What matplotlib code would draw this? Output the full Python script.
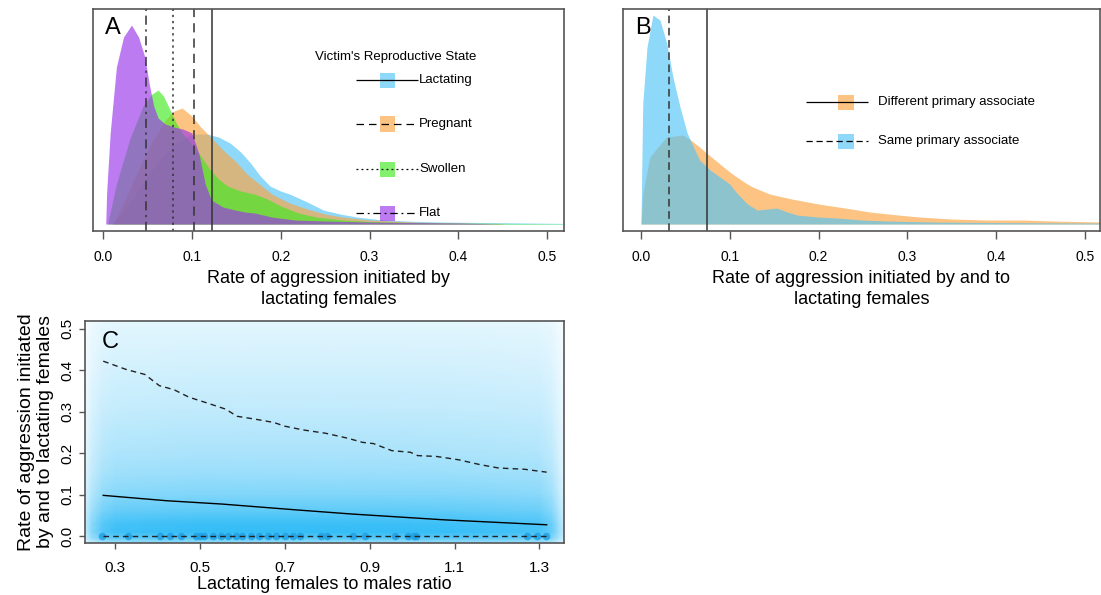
import numpy as np
import matplotlib.pyplot as plt
from matplotlib.colors import LinearSegmentedColormap
from matplotlib.patches import Rectangle

plt.rcParams['font.family'] = ['Liberation Sans', 'DejaVu Sans']

# ---- Panel A: density of aggression rate by victim's reproductive state ----
lact_x = [0.01, 0.02, 0.035, 0.05, 0.065, 0.08, 0.095, 0.105, 0.117, 0.13, 0.143,
          0.155, 0.166, 0.177, 0.188, 0.2, 0.21, 0.23, 0.248, 0.267, 0.286, 0.31,
          0.34, 0.38, 0.43, 0.48, 0.52]
lact_y = [0, 10, 28, 48, 66, 80, 88, 90, 90, 87, 81, 72, 61, 48, 38, 33, 30, 22,
          14, 10, 7, 4.5, 3, 2, 1.5, 1, 0.6]

preg_x = [0.011, 0.025, 0.04, 0.055, 0.07, 0.08, 0.089, 0.1, 0.11, 0.12, 0.135,
          0.15, 0.162, 0.176, 0.19, 0.21, 0.23, 0.25, 0.27, 0.3, 0.35, 0.4, 0.45]
preg_y = [0, 25, 55, 82, 104, 113, 116, 108, 97, 88, 74, 62, 50, 40, 30, 21, 15,
          10, 7, 4, 2, 1, 0.5]

swol_x = [0.005, 0.015, 0.03, 0.045, 0.055, 0.062, 0.068, 0.075, 0.083, 0.09, 0.1,
          0.11, 0.12, 0.13, 0.14, 0.155, 0.17, 0.185, 0.2, 0.22, 0.24, 0.27, 0.3,
          0.35, 0.42, 0.52]
swol_y = [0, 40, 85, 118, 130, 134, 128, 115, 100, 90, 80, 68, 55, 45, 38, 33,
          30, 25, 18, 11, 7, 4, 2.5, 1.5, 0.8, 0.3]

flat_x = [0.003, 0.004, 0.008, 0.015, 0.023, 0.032, 0.04, 0.047, 0.052, 0.057,
          0.062, 0.07, 0.08, 0.09, 0.1, 0.108, 0.115, 0.122, 0.135, 0.149, 0.16,
          0.171, 0.19, 0.216, 0.25, 0.3, 0.35, 0.4, 0.45]
flat_y = [0, 31, 91, 157, 187, 199, 187, 167, 140, 118, 106, 100, 97, 95, 91, 70,
          40, 24, 17, 14, 12, 11, 7, 4, 3, 2, 1.5, 1, 0]

# group means (vertical reference lines)
states = ['Lactating', 'Pregnant', 'Swollen', 'Flat']
means_a = [0.123, 0.1025, 0.079, 0.048]

# ---- Panel B: density by primary associate ----
diff_x = [0.0, 0.002, 0.01, 0.02, 0.029, 0.038, 0.047, 0.056, 0.066, 0.078, 0.089,
          0.1, 0.108, 0.118, 0.126, 0.145, 0.17, 0.2, 0.23, 0.258, 0.29, 0.314,
          0.35, 0.39, 0.43, 0.465, 0.52]
diff_y = [0, 30, 67, 78, 87, 88, 89, 84, 77, 68, 60, 52, 47, 41, 37, 30, 25, 20,
          16, 12, 9, 7, 5, 4, 4, 3, 2]

same_x = [0.0, 0.002, 0.0068, 0.0135, 0.0214, 0.029, 0.036, 0.044, 0.052, 0.066,
          0.078, 0.089, 0.1, 0.108, 0.12, 0.131, 0.142, 0.153, 0.165, 0.176, 0.2,
          0.221, 0.25, 0.277, 0.33, 0.4, 0.52]
same_y = [0, 120, 177, 209, 204, 181, 147, 117, 91, 64, 54, 47, 40, 31, 20, 14,
          15, 16, 12, 9, 7, 6, 4, 3, 2, 1.5, 1]

associates = ['Different primary associate', 'Same primary associate']
means_b = [0.074, 0.0315]

# ---- Panel C: aggression rate vs lactating female : male ratio ----
fit_x = [0.272, 0.422, 0.552, 0.726, 0.857, 1.074, 1.317]
fit_y = [0.098, 0.085, 0.077, 0.063, 0.053, 0.039, 0.027]

upper_x = [0.272, 0.326, 0.37, 0.404, 0.439, 0.474, 0.517, 0.561, 0.587, 0.63,
           0.674, 0.70, 0.743, 0.796, 0.848, 0.883, 0.909, 0.952, 0.996, 1.013,
           1.057, 1.109, 1.161, 1.204, 1.265, 1.317]
upper_y = [0.422, 0.402, 0.39, 0.363, 0.353, 0.335, 0.321, 0.306, 0.289, 0.282,
           0.274, 0.265, 0.256, 0.248, 0.236, 0.226, 0.223, 0.206, 0.202, 0.194,
           0.192, 0.184, 0.172, 0.164, 0.161, 0.154]

lower_x = [0.272, 1.317]
lower_y = [0.0, 0.0]

obs_ratio = [0.27, 0.33, 0.405, 0.43, 0.455, 0.49, 0.50, 0.51, 0.53, 0.55, 0.565,
             0.585, 0.60, 0.62, 0.64, 0.66, 0.68, 0.70, 0.72, 0.735, 0.785, 0.80,
             0.86, 0.89, 0.96, 0.99, 1.005, 1.01, 1.27, 1.295, 1.315]
obs_rate = [0.0] * len(obs_ratio)

# smoothed point density behind panel C (rows: rate, cols: ratio)
dens_rate = [-0.017, -0.005, 0.01, 0.03, 0.06, 0.1, 0.15, 0.2, 0.3, 0.4, 0.5, 0.519]
dens_rate_level = [0.45, 0.8, 0.95, 0.92, 0.76, 0.6, 0.48, 0.4, 0.3, 0.22, 0.15,
                   0.12]
dens_ratio = [0.229, 0.245, 0.27, 0.3, 0.5, 0.7, 0.9, 1.1, 1.3, 1.33, 1.345, 1.359]
dens_ratio_level = [0.3, 0.6, 0.85, 0.95, 1.0, 1.0, 1.0, 0.98, 0.92, 0.75, 0.5, 0.3]

col_lact = (81/255, 195/255, 247/255)
col_preg = (252/255, 163/255, 63/255)
col_swol = (65/255, 233/255, 32/255)
col_flat = (154/255, 52/255, 235/255)
alpha = 0.65
line_col = '#333333'
spine_col = '#555555'

fig = plt.figure(figsize=(11.01, 5.95), dpi=100)
axA = fig.add_axes([0.0845, 0.6117, 0.4278, 0.3731])
axB = fig.add_axes([0.5658, 0.6117, 0.4332, 0.3731])
axC = fig.add_axes([0.0772, 0.0874, 0.4355, 0.3731])


def style_density_axis(ax, xlim):
    ax.set_xlim(*xlim)
    ax.set_ylim(-7, 215)
    ax.set_yticks([])
    ax.set_xticks([0.0, 0.1, 0.2, 0.3, 0.4, 0.5])
    ax.set_xticklabels(['0.0', '0.1', '0.2', '0.3', '0.4', '0.5'])
    ax.tick_params(axis='x', direction='out', length=6, width=1, colors=spine_col,
                   labelcolor='black', labelsize=10, pad=8)
    for s in ax.spines.values():
        s.set_color(spine_col)
        s.set_linewidth(1.2)


def legend_entry(ax, y, x0, x1, xc, xt, color, ls, label, size=(0.032, 0.068)):
    tr = ax.transAxes
    ax.plot([x0, x1], [y, y], color='black', lw=0.9, ls=ls, transform=tr,
            clip_on=False)
    ax.add_patch(Rectangle((xc - size[0] / 2, y - size[1] / 2), size[0], size[1],
                           transform=tr, facecolor=color, alpha=alpha, lw=0,
                           clip_on=False))
    ax.text(xt, y, label, transform=tr, fontsize=9.5, va='center', ha='left')


# panel A
for xs, ys, c in [(lact_x, lact_y, col_lact), (preg_x, preg_y, col_preg),
                  (swol_x, swol_y, col_swol), (flat_x, flat_y, col_flat)]:
    axA.fill_between(xs, 0, ys, color=c, alpha=alpha, lw=0)

styles = [(0, ()), (0, (6, 4)), (0, (1.5, 2.5)), (0, (6, 3, 1.5, 3))]
for m, ls in zip(means_a, styles):
    axA.axvline(m, color=line_col, lw=1.1, ls=ls)
style_density_axis(axA, (-0.0113, 0.519))
axA.set_xlabel('Rate of aggression initiated by\nlactating females', fontsize=13,
               labelpad=4, linespacing=1.3)
axA.text(0.025, 0.965, 'A', transform=axA.transAxes, fontsize=17, va='top')

axA.text(0.643, 0.784, "Victim's Reproductive State", transform=axA.transAxes,
         fontsize=9.5, ha='center', va='center')
for y, c, ls, name in zip([0.680, 0.482, 0.279, 0.081],
                          [col_lact, col_preg, col_swol, col_flat], styles, states):
    legend_entry(axA, y, 0.558, 0.690, 0.626, 0.692, c, ls, name)

# panel B
axB.fill_between(diff_x, 0, diff_y, color=col_preg, alpha=alpha, lw=0)
axB.fill_between(same_x, 0, same_y, color=col_lact, alpha=alpha, lw=0)
styles_b = [(0, ()), (0, (5, 3))]
for m, ls in zip(means_b, styles_b):
    axB.axvline(m, color=line_col, lw=1.1, ls=ls)
style_density_axis(axB, (-0.0203, 0.517))
axB.set_xlabel('Rate of aggression initiated by and to\nlactating females',
               fontsize=13, labelpad=4, linespacing=1.3)
axB.text(0.025, 0.965, 'B', transform=axB.transAxes, fontsize=17, va='top')
for y, c, ls, name in zip([0.581, 0.405], [col_preg, col_lact], styles_b,
                          associates):
    legend_entry(axB, y, 0.384, 0.514, 0.4675, 0.535, c, ls, name)

# panel C
cmap = LinearSegmentedColormap.from_list('smooth_blue', ['#ffffff', '#2bbaf6'])
dens = np.outer(dens_rate_level, dens_ratio_level)
axC.pcolormesh(dens_ratio, dens_rate, dens, cmap=cmap, vmin=0, vmax=1,
               shading='gouraud', zorder=0)
axC.scatter(obs_ratio, obs_rate, s=30, color='#1f9fe3', alpha=0.8, lw=0, zorder=2)
axC.plot(fit_x, fit_y, color='black', lw=1.0, zorder=3)
axC.plot(upper_x, upper_y, color='#222222', lw=1.0, ls=(0, (4, 3)), zorder=3)
axC.plot(lower_x, lower_y, color='#222222', lw=1.0, ls=(0, (4, 3)), zorder=3)
axC.set_xlim(0.229, 1.359)
axC.set_ylim(-0.017, 0.519)
axC.set_xticks([0.3, 0.5, 0.7, 0.9, 1.1, 1.3])
axC.set_xticklabels(['0.3', '0.5', '0.7', '0.9', '1.1', '1.3'])
axC.set_yticks([0.0, 0.1, 0.2, 0.3, 0.4, 0.5])
axC.set_yticklabels(['0.0', '0.1', '0.2', '0.3', '0.4', '0.5'], rotation=90,
                    va='center')
axC.tick_params(direction='out', length=4, width=1, colors=spine_col,
                labelcolor='black', labelsize=11)
axC.tick_params(axis='x', pad=9)
axC.tick_params(axis='y', pad=4)
for s in axC.spines.values():
    s.set_color(spine_col)
    s.set_linewidth(1.2)
axC.set_xlabel('Lactating females to males ratio', fontsize=13, labelpad=1)
axC.set_ylabel('Rate of aggression initiated\nby and to lactating females',
               fontsize=14, labelpad=4, linespacing=1.15)
axC.text(0.035, 0.955, 'C', transform=axC.transAxes, fontsize=17, va='top')

fig.savefig('out.png', dpi=100)
